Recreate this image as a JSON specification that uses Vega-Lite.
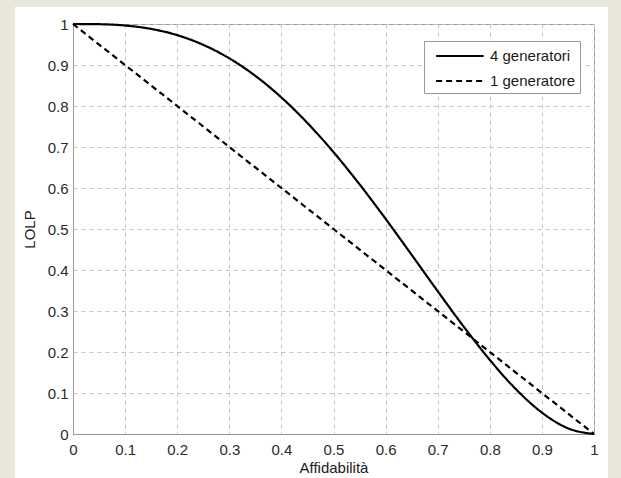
{
  "$schema": "https://vega.github.io/schema/vega-lite/v6.json",
  "autosize": {"type": "none"},
  "width": 521,
  "height": 410,
  "padding": {"left": 73, "top": 24, "right": 27, "bottom": 44},
  "background": "white",
  "config": {
    "font": "Liberation Sans",
    "view": {"stroke": "#999999", "strokeWidth": 1},
    "axis": {
      "grid": true,
      "domainColor": "#999999",
      "gridColor": "#c4c4c4",
      "gridDash": [4, 4],
      "gridWidth": 1,
      "gridOpacity": 1,
      "tickSize": 0,
      "labelFont": "Liberation Sans",
      "labelFontSize": 15,
      "labelColor": "#2a2a2a",
      "titleFont": "Liberation Sans",
      "titleFontSize": 15,
      "titleFontWeight": "normal",
      "titleColor": "#1a1a1a"
    }
  },
  "data": {
    "values": [
      {"x": 0, "lolp": 1, "serie": "4 generatori"},
      {"x": 0.05, "lolp": 0.9995, "serie": "4 generatori"},
      {"x": 0.1, "lolp": 0.9963, "serie": "4 generatori"},
      {"x": 0.15, "lolp": 0.988, "serie": "4 generatori"},
      {"x": 0.2, "lolp": 0.9728, "serie": "4 generatori"},
      {"x": 0.25, "lolp": 0.9492, "serie": "4 generatori"},
      {"x": 0.3, "lolp": 0.9163, "serie": "4 generatori"},
      {"x": 0.35, "lolp": 0.8735, "serie": "4 generatori"},
      {"x": 0.4, "lolp": 0.8208, "serie": "4 generatori"},
      {"x": 0.45, "lolp": 0.7585, "serie": "4 generatori"},
      {"x": 0.5, "lolp": 0.6875, "serie": "4 generatori"},
      {"x": 0.55, "lolp": 0.609, "serie": "4 generatori"},
      {"x": 0.6, "lolp": 0.5248, "serie": "4 generatori"},
      {"x": 0.65, "lolp": 0.437, "serie": "4 generatori"},
      {"x": 0.7, "lolp": 0.3483, "serie": "4 generatori"},
      {"x": 0.75, "lolp": 0.2617, "serie": "4 generatori"},
      {"x": 0.8, "lolp": 0.1808, "serie": "4 generatori"},
      {"x": 0.85, "lolp": 0.1095, "serie": "4 generatori"},
      {"x": 0.9, "lolp": 0.0523, "serie": "4 generatori"},
      {"x": 0.95, "lolp": 0.014, "serie": "4 generatori"},
      {"x": 1, "lolp": 0, "serie": "4 generatori"},
      {"x": 0, "lolp": 1, "serie": "1 generatore"},
      {"x": 0.25, "lolp": 0.75, "serie": "1 generatore"},
      {"x": 0.5, "lolp": 0.5, "serie": "1 generatore"},
      {"x": 0.75, "lolp": 0.25, "serie": "1 generatore"},
      {"x": 1, "lolp": 0, "serie": "1 generatore"}
    ]
  },
  "layer": [
    {
      "mark": {"type": "line", "color": "black", "strokeWidth": 2.2, "interpolate": "monotone"},
      "encoding": {
        "x": {
          "field": "x", "type": "quantitative",
          "scale": {"domain": [0, 1], "nice": false},
          "axis": {"title": "Affidabilità", "grid": true, "values": [0,0.1,0.2,0.3,0.4,0.5,0.6,0.7,0.8,0.9,1], "format": ".1~f", "labelPadding": 8, "titlePadding": 3, "labelFlush": false}
        },
        "y": {
          "field": "lolp", "type": "quantitative",
          "scale": {"domain": [0, 1], "nice": false},
          "axis": {"title": "LOLP", "grid": true, "values": [0,0.1,0.2,0.3,0.4,0.5,0.6,0.7,0.8,0.9,1], "format": ".1~f", "labelPadding": 5, "titlePadding": 10, "labelFlush": false}
        },
        "strokeDash": {
          "field": "serie", "type": "nominal",
          "scale": {"domain": ["4 generatori", "1 generatore"], "range": [[1, 0], [6, 4]]},
          "legend": {
            "title": null,
            "orient": "none",
            "legendX": 351,
            "legendY": 17,
            "fillColor": "white",
            "strokeColor": "#999999",
            "padding": 4,
            "symbolType": "M-0.3,0H4.7",
            "symbolSize": 361,
            "symbolStrokeWidth": 2.2,
            "symbolStrokeColor": "black",
            "symbolFillColor": "transparent",
            "labelFont": "Liberation Sans",
            "labelFontSize": 15,
            "labelColor": "#1a1a1a",
            "labelExpr": "datum.label + '\u00a0\u00a0\u00a0\u00a0\u00a0\u00a0\u00a0'",
            "rowPadding": 6,
            "labelOffset": 40
          }
        }
      }
    },
    {
      "mark": {"type": "rect", "fill": "#e9e6da", "clip": false},
      "encoding": {
        "x": {"datum": -0.3, "type": "quantitative"},
        "x2": {"datum": -0.1113},
        "y": {"datum": -0.3, "type": "quantitative"},
        "y2": {"datum": 1.3}
      }
    },
    {
      "mark": {"type": "rect", "fill": "#e9e6da", "clip": false},
      "encoding": {
        "x": {"datum": -0.3, "type": "quantitative"},
        "x2": {"datum": 1.3},
        "y": {"datum": 1.0415, "type": "quantitative"},
        "y2": {"datum": 1.3}
      }
    },
    {
      "mark": {"type": "rect", "fill": "#e9e6da", "clip": false},
      "encoding": {
        "x": {"datum": 1.0269, "type": "quantitative"},
        "x2": {"datum": 1.3},
        "y": {"datum": -0.3, "type": "quantitative"},
        "y2": {"datum": 1.3}
      }
    }
  ]
}
